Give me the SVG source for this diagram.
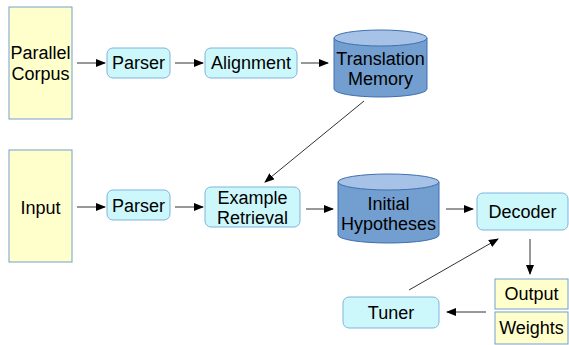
<svg xmlns="http://www.w3.org/2000/svg" width="569" height="345" viewBox="0 0 569 345">
<defs>
<marker id="ah" markerWidth="10" markerHeight="8" refX="9" refY="4" orient="auto" markerUnits="userSpaceOnUse">
<path d="M0,0 L10,4 L0,8 z" fill="#000"/>
</marker>
<style>
.y{fill:#ffffcc;stroke:#729fcf;stroke-width:1}
.c{fill:#ccf8fc;stroke:#7fb3dc;stroke-width:1}
.cy{fill:#729fcf;stroke:#3f6fb0;stroke-width:1}
.ct{fill:#a6c2e6;stroke:#3f6fb0;stroke-width:1}
text{font-family:"Liberation Sans",Arial,sans-serif;font-size:18px;fill:#000;text-anchor:middle}
.l{fill:none;stroke:#333;stroke-width:1}
</style>
</defs>
<rect width="569" height="345" fill="#fff"/>
<g id="n-corpus"><rect class="y" x="9" y="7" width="63" height="112"/><text x="40.5" y="59">Parallel</text><text x="40.5" y="80">Corpus</text></g>
<g id="n-parser1"><rect class="c" x="107" y="48" width="63" height="30" rx="6"/><text x="138.5" y="69">Parser</text></g>
<g id="n-align"><rect class="c" x="205" y="48" width="92" height="30" rx="6"/><text x="251" y="69">Alignment</text></g>
<g id="n-tm"><path class="cy" d="M334,38 V89 A46.5,8 0 0 0 427,89 V38"/><ellipse class="ct" cx="380.5" cy="38" rx="46.5" ry="8"/><text x="380.5" y="65">Translation</text><text x="380.5" y="85">Memory</text></g>
<g id="n-input"><rect class="y" x="9" y="150" width="63" height="112"/><text x="40.5" y="214">Input</text></g>
<g id="n-parser2"><rect class="c" x="107" y="190" width="63" height="30" rx="6"/><text x="138.5" y="212">Parser</text></g>
<g id="n-er"><rect class="c" x="205" y="187" width="95" height="40" rx="6"/><text x="252.5" y="204">Example</text><text x="252.5" y="224">Retrieval</text></g>
<g id="n-ih"><path class="cy" d="M338,182 V235 A50.5,8 0 0 0 439,235 V182"/><ellipse class="ct" cx="388.5" cy="182" rx="50.5" ry="8"/><text x="388.5" y="210">Initial</text><text x="388.5" y="230">Hypotheses</text></g>
<g id="n-decoder"><rect class="c" x="477" y="193" width="91" height="37" rx="6"/><text x="522.5" y="218">Decoder</text></g>
<g id="n-output"><rect class="y" x="495" y="279" width="73" height="30"/><text x="531.5" y="300">Output</text></g>
<g id="n-weights"><rect class="y" x="495" y="312" width="73" height="32"/><text x="531.5" y="334">Weights</text></g>
<g id="n-tuner"><rect class="c" x="343" y="297" width="96" height="31" rx="6"/><text x="391" y="319">Tuner</text></g>
<g id="connectors">
<line class="l" x1="77" y1="63" x2="105" y2="63" marker-end="url(#ah)"/>
<line class="l" x1="175" y1="63" x2="203" y2="63" marker-end="url(#ah)"/>
<line class="l" x1="301" y1="63" x2="328" y2="63" marker-end="url(#ah)"/>
<line class="l" x1="364" y1="101" x2="265" y2="182" marker-end="url(#ah)"/>
<line class="l" x1="77" y1="207" x2="105" y2="207" marker-end="url(#ah)"/>
<line class="l" x1="175" y1="207" x2="203" y2="207" marker-end="url(#ah)"/>
<line class="l" x1="306" y1="209" x2="333" y2="209" marker-end="url(#ah)"/>
<line class="l" x1="446" y1="209" x2="473" y2="209" marker-end="url(#ah)"/>
<line class="l" x1="530" y1="239" x2="530" y2="274" marker-end="url(#ah)"/>
<line class="l" x1="486" y1="312" x2="447" y2="312" marker-end="url(#ah)"/>
<line class="l" x1="409" y1="290" x2="498" y2="239" marker-end="url(#ah)"/>
</g>
</svg>
